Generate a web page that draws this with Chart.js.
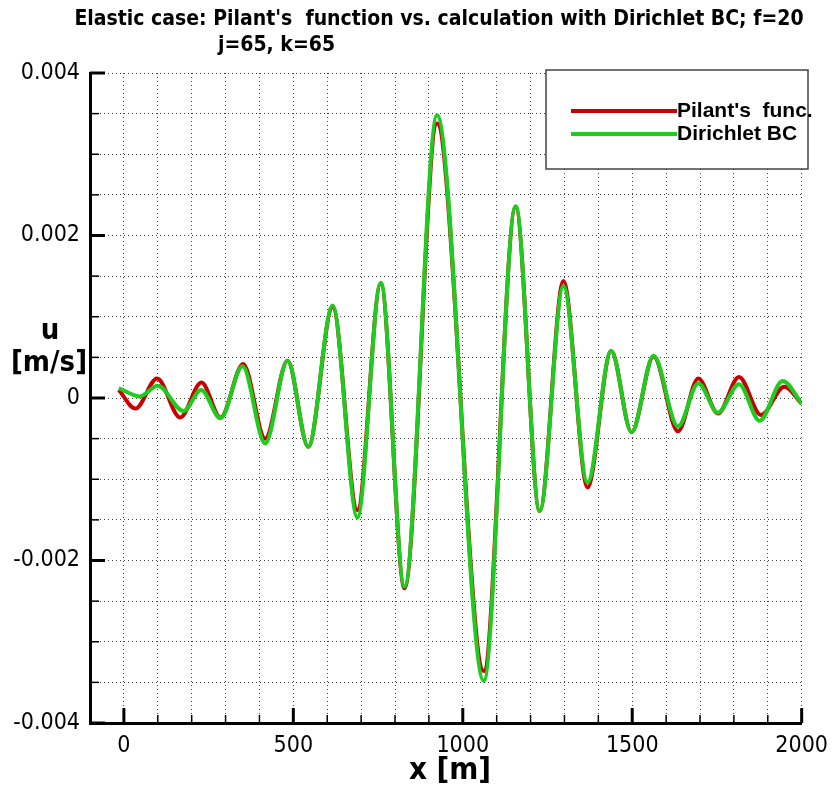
<!DOCTYPE html>
<html>
<head>
<meta charset="utf-8">
<script src="https://cdn.jsdelivr.net/npm/chart.js@4.4.0/dist/chart.umd.min.js"></script>
<style>
  html, body { margin: 0; padding: 0; background: #fff; }
  #wrap { position: relative; width: 837px; height: 787px; }
</style>
</head>
<body>
<div id="wrap"><canvas id="chart" width="837" height="787"></canvas></div>
<script>
// Values (extrema of the two curves)
const pilantX = [-15, 34, 98, 166, 229, 285, 352, 417, 483, 544, 616, 689, 758, 828, 924, 1062,
                 1156, 1227, 1297, 1368, 1438, 1498, 1563, 1635, 1695, 1753, 1815, 1880, 1949, 2000];
const pilantU = [0.0001, -0.00013, 0.00024, -0.00024, 0.00019, -0.00024, 0.00042, -0.0005, 0.00046, -0.0006,
                 0.00112, -0.00138, 0.00141, -0.00234, 0.00338, -0.00336,
                 0.00235, -0.00139, 0.00144, -0.0011, 0.00058, -0.00042, 0.00051, -0.00041, 0.00024, -0.00019,
                 0.00026, -0.00021, 0.00014, -0.00007];

const dirichletX = [-15, 47, 100, 176, 228, 285, 350, 417, 483, 544, 616, 689, 758, 828, 924, 1062,
                    1156, 1227, 1297, 1368, 1438, 1498, 1563, 1635, 1695, 1753, 1815, 1876, 1944, 2000];
const dirichletU = [0.00012, 0.00002, 0.00015, -0.00016, 0.0001, -0.00025, 0.00039, -0.00056, 0.00046, -0.0006,
                    0.00114, -0.00147, 0.00142, -0.00232, 0.00348, -0.00348,
                    0.00236, -0.00139, 0.00138, -0.00104, 0.00058, -0.00042, 0.00052, -0.00035, 0.00018, -0.00018,
                    0.00017, -0.00028, 0.00021, -0.00007];

const xLabels = [0, 500, 1000, 1500, 2000];
const yLabels = [-0.004, -0.002, 0, 0.002, 0.004];
const seriesNames = ["Pilant's  func.", 'Dirichlet BC'];
const seriesColors = ['#c80000', '#1ecb1e'];

const titleLine1 = "Elastic case: Pilant's  function vs. calculation with Dirichlet BC; f=20";
const titleLine2 = 'j=65, k=65';

const toPoints = (xs, ys) => xs.map((x, i) => ({ x: x, y: ys[i] }));
const isLabel = (list, v) => list.some(t => Math.abs(t - v) < 1e-9);

// inside tick marks, titles and the boxed legend
const decor = {
    id: 'decor',
    beforeDatasetsDraw(chart) {
        const { ctx, chartArea: a, scales: { x, y } } = chart;
        ctx.save();
        ctx.strokeStyle = '#000';
        x.ticks.forEach(t => {
            const px = x.getPixelForValue(t.value);
            const major = isLabel(xLabels, t.value);
            ctx.lineWidth = major ? 3 : 1.5;
            ctx.beginPath();
            ctx.moveTo(px, a.bottom);
            ctx.lineTo(px, a.bottom - (major ? 15 : 8));
            ctx.stroke();
        });
        y.ticks.forEach(t => {
            const py = y.getPixelForValue(t.value);
            const major = isLabel(yLabels, t.value);
            ctx.lineWidth = major ? 3 : 1.5;
            ctx.beginPath();
            ctx.moveTo(a.left, py);
            ctx.lineTo(a.left + (major ? 15 : 9), py);
            ctx.stroke();
        });
        ctx.restore();
    },
    afterDraw(chart) {
        const { ctx } = chart;
        ctx.save();
        ctx.fillStyle = '#000';
        ctx.textBaseline = 'middle';

        ctx.font = "bold 21px 'Liberation Sans Narrow', 'DejaVu Sans Condensed', sans-serif";
        ctx.textAlign = 'center';
        ctx.fillText(titleLine1, 439, 20);
        ctx.textAlign = 'left';
        ctx.fillText(titleLine2, 218, 46);

        ctx.font = "bold 29px 'DejaVu Sans Condensed', sans-serif";
        ctx.textAlign = 'center';
        ctx.fillText('u', 50, 331);
        ctx.fillText('[m/s]', 49, 363);
        ctx.font = "bold 31px 'DejaVu Sans Condensed', sans-serif";
        ctx.fillText('x [m]', 450, 771);

        // legend box
        ctx.fillStyle = '#fff';
        ctx.fillRect(546, 70, 262, 99);
        ctx.strokeStyle = '#444';
        ctx.lineWidth = 1.5;
        ctx.strokeRect(546, 70, 262, 99);
        ctx.font = "bold 21px 'Liberation Sans', Arial, sans-serif";
        ctx.textAlign = 'left';
        [111, 134].forEach((ly, i) => {
            ctx.strokeStyle = seriesColors[i];
            ctx.lineWidth = 4;
            ctx.beginPath();
            ctx.moveTo(571, ly);
            ctx.lineTo(677, ly);
            ctx.stroke();
            ctx.fillStyle = '#000';
            ctx.fillText(seriesNames[i], 677, ly);
        });
        ctx.restore();
    }
};

const tickFont = { family: "'Liberation Sans Narrow', 'DejaVu Sans Condensed', sans-serif", size: 23 };

new Chart(document.getElementById('chart'), {
    type: 'line',
    data: {
        datasets: [
            { label: seriesNames[0], data: toPoints(pilantX, pilantU), borderColor: seriesColors[0],
              borderWidth: 4, pointRadius: 0, cubicInterpolationMode: 'monotone', order: 1 },
            { label: seriesNames[1], data: toPoints(dirichletX, dirichletU), borderColor: seriesColors[1],
              borderWidth: 4, pointRadius: 0, cubicInterpolationMode: 'monotone', order: 0 }
        ]
    },
    options: {
        responsive: false,
        animation: false,
        layout: { padding: { top: 73, right: 30, left: 0, bottom: 0 } },
        plugins: { legend: { display: false }, tooltip: { enabled: false }, title: { display: false } },
        scales: {
            x: {
                type: 'linear', min: -100, max: 2000,
                afterFit: s => { s.height = 64; },
                ticks: { stepSize: 100, color: '#000', font: tickFont, padding: 9, maxRotation: 0, autoSkip: false,
                         callback: v => isLabel(xLabels, v) ? String(v) : '' },
                grid: { color: '#444', lineWidth: 1, drawTicks: false },
                border: { display: true, color: '#000', width: 3, dash: [1, 3] }
            },
            y: {
                type: 'linear', min: -0.004, max: 0.004,
                afterFit: s => { s.width = 90; },
                ticks: { stepSize: 0.0005, color: '#000', font: tickFont, padding: 10, autoSkip: false,
                         callback: v => isLabel(yLabels, v) ? (Math.abs(v) < 1e-12 ? '0' : v.toFixed(3)) : '' },
                grid: { color: '#444', lineWidth: 1, drawTicks: false },
                border: { display: true, color: '#000', width: 3, dash: [1, 3] }
            }
        }
    },
    plugins: [decor]
});
</script>
</body>
</html>
